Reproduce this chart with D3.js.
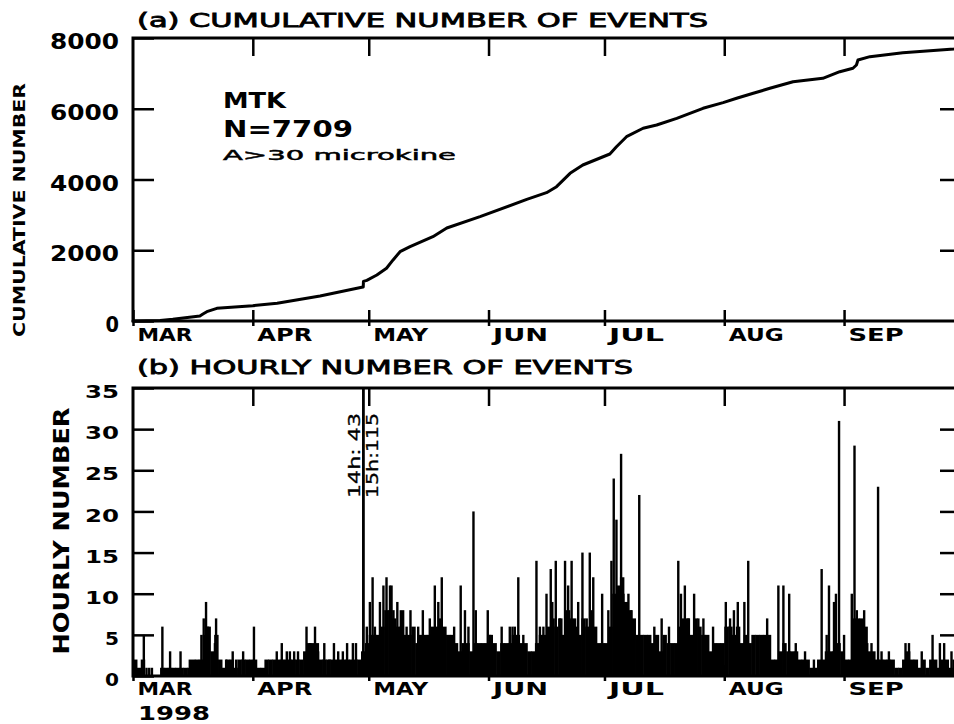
<!DOCTYPE html>
<html>
<head>
<meta charset="utf-8">
<script src="https://cdn.jsdelivr.net/npm/d3@7"></script>
<style>
  body { margin: 0; background: #fff; }
  svg { display: block; }
  text { font-family: "DejaVu Sans", "Liberation Sans", sans-serif; fill: #000; }
</style>
</head>
<body>
<svg id="chart" width="954" height="724"></svg>
<script>
// Observation period: 1 Mar 1998 00h – 1 Oct 1998 00h (UTC)
const periodStart = Date.UTC(1998, 2, 1);
const periodEnd = Date.UTC(1998, 9, 1);

// (a) cumulative number of events: day offset from 1 Mar, running total
const cumDay = [0, 7, 10.3, 17.3, 18.1, 19.1, 21.7, 31, 37.3, 48.4, 59.2, 59.58, 59.63, 60.5,
  63.1, 65.6, 67.3, 69.1, 71.7, 77.6, 81.2, 89.8, 101.9, 107, 109.6, 113.1, 116.4, 123.4,
  125.1, 127.7, 132, 135.5, 140.7, 147.5, 152.7, 156.2, 160.5, 164.8, 170.8, 178.5, 182.9,
  186.3, 187.2, 187.6, 190.7, 199.2, 212.4, 214];
const cumCount = [0, 14, 48, 141, 198, 263, 359, 433, 500, 707, 953, 960, 1118, 1150,
  1300, 1490, 1726, 1960, 2100, 2384, 2630, 2950, 3440, 3627, 3797, 4175, 4410, 4721,
  4927, 5210, 5448, 5541, 5730, 6013, 6172, 6296, 6437, 6578, 6765, 6861, 7048,
  7144, 7237, 7378, 7472, 7585, 7690, 7709];

// (b) hourly number of events: usual hourly level for each day, 1 Mar … 30 Sep
const dailyLevel = [
  2, 1, 2, 0, 0, 0, 0, 1, 1, 1,
  1, 1, 1, 1, 1, 2, 2, 2, 5, 6,
  3, 5, 2, 1, 2, 2, 1, 2, 2, 2,
  2, 2, 1, 1, 2, 2, 2, 2, 2, 2,
  2, 2, 2, 2, 3, 4, 4, 4, 2, 2,
  2, 2, 2, 2, 2, 2, 2, 2, 2, 3,
  4, 5, 5, 5, 6, 8, 8, 7, 6, 6,
  5, 5, 6, 4, 5, 5, 5, 6, 6, 7,
  6, 5, 5, 4, 3, 4, 4, 3, 4, 4,
  4, 4, 5, 4, 3, 4, 4, 4, 5, 5,
  4, 4, 3, 3, 4, 5, 5, 6, 7, 6,
  7, 5, 8, 7, 6, 5, 7, 6, 8, 6,
  4, 4, 4, 6, 10, 11, 12, 9, 8, 7,
  5, 5, 5, 5, 4, 5, 3, 5, 4, 4,
  4, 6, 7, 7, 5, 7, 6, 5, 5, 3,
  4, 4, 4, 6, 6, 5, 6, 4, 5, 4,
  5, 5, 5, 5, 5, 2, 2, 3, 4, 3,
  3, 3, 2, 2, 2, 1, 1, 2, 2, 3,
  3, 3, 4, 3, 2, 2, 7, 7, 7, 6,
  3, 3, 2, 2, 2, 2, 2, 1, 1, 2,
  3, 2, 2, 1, 2, 1, 2, 2, 1, 2,
  2, 1, 2, 1
];

// isolated high hours: day offset from 1 Mar (fraction = hour of day / 24) and count
const peakDay = [2.8, 3.5, 4.2, 4.9, 7.6, 9.6, 12.3, 14.7, 17.7, 18.3, 18.9, 19.4, 21.2, 21.5,
  24.1, 25.8, 26.7, 28.5, 31.3, 37.2, 38.5, 39.8, 40.6, 41.7, 42.7, 44.9, 45.8, 47.1, 47.9,
  49.5, 50.8, 52.0, 53.1, 54.3, 55.4, 56.9, 57.7, 59.583, 59.625, 60.5, 61.3, 62.0, 62.6,
  63.9, 64.8, 65.6, 66.5, 66.9, 67.4, 68.4, 69.3, 69.9, 70.8, 71.8, 73.8, 75.0, 76.8, 78.1,
  79.0, 79.9, 83.1, 84.8, 85.9, 86.8, 88.1, 88.7, 91.8, 92.4, 95.4, 97.5, 98.2, 98.8, 99.7,
  101.0, 104.4, 105.3, 106.2, 107.0, 108.1, 108.5, 109.4, 110.5, 111.8, 112.6, 113.5, 114.4,
  115.2, 116.3, 117.4, 118.2, 119.1, 121.4, 123.0, 123.8, 124.4, 125.1, 126.3, 126.9, 128.2,
  129.0, 131.0, 134.9, 136.8, 138.7, 141.1, 141.8, 142.8, 143.7, 145.2, 146.3, 147.6, 150.1,
  153.4, 154.5, 155.5, 156.5, 158.2, 159.2, 164.1, 167.0, 168.3, 169.8, 171.5, 173.9, 176.2,
  178.2, 179.5, 180.1, 181.4, 181.9, 182.7, 184.0, 186.0, 186.7, 187.3, 189.2, 190.0, 191.1,
  192.8, 193.7, 195.6, 199.9, 200.8, 204.1, 206.9, 208.8, 209.9, 211.8];
const peakCount = [5, 1, 1, 1, 6, 3, 3, 2, 5, 7, 9, 6, 4, 7,
  2, 3, 2, 3, 6, 3, 4, 3, 3, 3, 3, 6, 4, 6, 3,
  4, 2, 4, 3, 3, 4, 4, 4, 43, 115, 6, 9, 12, 6,
  9, 11, 12, 11, 11, 8, 9, 8, 8, 6, 8, 6, 8, 7, 11,
  9, 12, 6, 11, 8, 6, 20, 8, 8, 5, 6, 6, 6, 6, 12,
  5, 14, 6, 6, 10, 13, 9, 14, 7, 14, 11, 14, 7,
  9, 15, 7, 15, 12, 10, 8, 14, 24, 19, 27, 10, 10,
  8, 22, 6, 7, 6, 14, 10, 11, 7, 10, 7, 7, 6,
  9, 7, 8, 9, 9, 14, 7, 11, 11, 10, 4, 3, 2,
  13, 5, 11, 9, 10, 31, 5, 10, 28, 8, 8, 4, 4,
  23, 3, 3, 4, 4, 3, 5, 4, 4, 3];

// hours written beside the two off-scale bars
const offScaleLabels = ["14h: 43", "15h:115"];

const cumTicks = [0, 2000, 4000, 6000, 8000];
const hourlyTicks = [0, 5, 10, 15, 20, 25, 30, 35];

const svg = d3.select("#chart");
const dayDate = d => new Date(periodStart + d * 864e5);
const months = d3.utcMonth.range(new Date(periodStart), new Date(periodEnd));
const monthName = d => d3.utcFormat("%b")(d).toUpperCase();

const x = d3.scaleUtc().domain([new Date(periodStart), new Date(periodEnd)]).range([133, 960]);
const yCum = d3.scaleLinear().domain([0, 8000]).range([321, 38]);
const yHr = d3.scaleLinear().domain([0, 35]).range([676, 388]);

// stretched label text in the wide plotter lettering
function fit(sel, w) {
  sel.attr("textLength", w).attr("lengthAdjust", "spacingAndGlyphs");
}

function panelFrame(y) {
  const [y0, y1] = y.range();
  svg.append("rect")
    .attr("x", x.range()[0]).attr("y", y1)
    .attr("width", x.range()[1] - x.range()[0]).attr("height", y0 - y1)
    .attr("fill", "none").attr("stroke", "#000").attr("stroke-width", 3);
}

function monthAxes(y, labelBase) {
  const [y0, y1] = y.range();
  const gb = svg.append("g").attr("transform", `translate(0,${y0})`)
    .call(d3.axisBottom(x).tickValues(months).tickFormat(monthName).tickSizeOuter(0));
  gb.select(".domain").remove();
  gb.selectAll(".tick line").attr("y1", -11).attr("y2", 5).attr("stroke", "#000").attr("stroke-width", 2.5);
  gb.selectAll(".tick text")
    .attr("text-anchor", "start").attr("x", 4).attr("y", labelBase).attr("dy", null)
    .attr("font-size", 18.5).attr("font-weight", "bold").attr("fill", "#000")
    .call(fit, 55);

  const gt = svg.append("g").attr("transform", `translate(0,${y1})`)
    .call(d3.axisTop(x).tickValues(months.slice(1)).tickFormat("").tickSize(-18).tickSizeOuter(0));
  gt.select(".domain").remove();
  gt.selectAll(".tick line").attr("stroke", "#000").attr("stroke-width", 2.5);
}

function valueAxes(y, ticks, fontSize, dy, widths) {
  const gl = svg.append("g").attr("transform", `translate(${x.range()[0]},0)`)
    .call(d3.axisLeft(y).tickValues(ticks).tickFormat(d3.format("d"))
      .tickSize(-21).tickPadding(14).tickSizeOuter(0));
  gl.select(".domain").remove();
  gl.selectAll(".tick line").attr("stroke", "#000").attr("stroke-width", 2.5);
  gl.selectAll(".tick text")
    .attr("dy", dy).attr("font-size", fontSize).attr("font-weight", "bold").attr("fill", "#000")
    .each(function (d) {
      d3.select(this).call(fit, widths[String(d).length]);
    });

  const gr = svg.append("g").attr("transform", `translate(${x.range()[1]},0)`)
    .call(d3.axisRight(y).tickValues(ticks.slice(1, -1)).tickFormat("").tickSize(-20).tickSizeOuter(0));
  gr.select(".domain").remove();
  gr.selectAll(".tick line").attr("stroke", "#000").attr("stroke-width", 2.5);
}

// ---------- (a) cumulative number ----------
const cumPoints = cumDay.map((d, i) => [dayDate(d), cumCount[i]]);
svg.append("path")
  .datum(cumPoints)
  .attr("fill", "none").attr("stroke", "#000").attr("stroke-width", 3)
  .attr("stroke-linejoin", "round").attr("stroke-linecap", "round")
  .attr("d", d3.line().x(p => x(p[0])).y(p => yCum(p[1])));

panelFrame(yCum);
monthAxes(yCum, 19.5);
valueAxes(yCum, cumTicks, 20.5, 10.5, { 1: 13.5, 4: 69 });

svg.append("text").attr("x", 137).attr("y", 27).attr("font-size", 19)
  .attr("stroke", "#000").attr("stroke-width", 0.8)
  .text("(a) CUMULATIVE NUMBER OF EVENTS").call(fit, 571);

svg.append("text").attr("transform", "translate(25,210) rotate(-90)")
  .attr("text-anchor", "middle").attr("font-size", 16.5).attr("font-weight", "bold")
  .text("CUMULATIVE NUMBER").call(fit, 254);

svg.append("text").attr("x", 223).attr("y", 108.3).attr("font-size", 20.5).attr("font-weight", "bold")
  .text("MTK").call(fit, 63);
svg.append("text").attr("x", 223).attr("y", 136.7).attr("font-size", 22.5).attr("font-weight", "bold")
  .text("N=" + cumCount[cumCount.length - 1]).call(fit, 130);
svg.append("text").attr("x", 223).attr("y", 160).attr("font-size", 14.5)
  .attr("stroke", "#000").attr("stroke-width", 0.5)
  .text("A>30 microkine").call(fit, 233);

// ---------- (b) hourly number ----------
svg.append("clipPath").attr("id", "hrClip")
  .append("rect")
  .attr("x", x.range()[0]).attr("y", yHr.range()[1])
  .attr("width", x.range()[1] - x.range()[0]).attr("height", yHr.range()[0] - yHr.range()[1]);

const bars = svg.append("g").attr("clip-path", "url(#hrClip)");

bars.selectAll("rect.level")
  .data(dailyLevel)
  .join("rect").attr("class", "level")
  .attr("x", (v, i) => x(dayDate(i)))
  .attr("width", (v, i) => x(dayDate(i + 1)) - x(dayDate(i)) + 0.6)
  .attr("y", v => yHr(v))
  .attr("height", v => yHr(0) - yHr(v))
  .attr("fill", "#000");

bars.selectAll("rect.peak")
  .data(peakDay.map((d, i) => ({ d, n: peakCount[i] })))
  .join("rect").attr("class", "peak")
  .attr("x", p => x(dayDate(p.d)) - 1.2)
  .attr("width", 2.4)
  .attr("y", p => yHr(p.n))
  .attr("height", p => yHr(0) - yHr(p.n))
  .attr("fill", "#000");

panelFrame(yHr);
monthAxes(yHr, 19);
valueAxes(yHr, hourlyTicks, 18.5, 9.7, { 1: 14, 2: 34 });

// labels beside the off-scale bars
const bigHours = peakDay.map((d, i) => ({ d, n: peakCount[i] })).filter(p => p.n > 35);
svg.append("text")
  .attr("transform", `translate(${x(dayDate(bigHours[0].d)) - 3},498) rotate(-90)`)
  .attr("font-size", 15.5).attr("stroke", "#000").attr("stroke-width", 0.3)
  .text(offScaleLabels[0]).call(fit, 85);
svg.append("text")
  .attr("transform", `translate(${x(dayDate(bigHours[1].d)) + 15},498) rotate(-90)`)
  .attr("font-size", 15.5).attr("stroke", "#000").attr("stroke-width", 0.3)
  .text(offScaleLabels[1]).call(fit, 85);

svg.append("text").attr("x", 137).attr("y", 374).attr("font-size", 19.5)
  .attr("stroke", "#000").attr("stroke-width", 0.8)
  .text("(b) HOURLY NUMBER OF EVENTS").call(fit, 496);

svg.append("text").attr("transform", "translate(69,531) rotate(-90)")
  .attr("text-anchor", "middle").attr("font-size", 21.5).attr("font-weight", "bold")
  .text("HOURLY NUMBER").call(fit, 247);

svg.append("text").attr("x", 138).attr("y", 720).attr("font-size", 19.5).attr("font-weight", "bold")
  .text("1998").call(fit, 72);
</script>
</body>
</html>
